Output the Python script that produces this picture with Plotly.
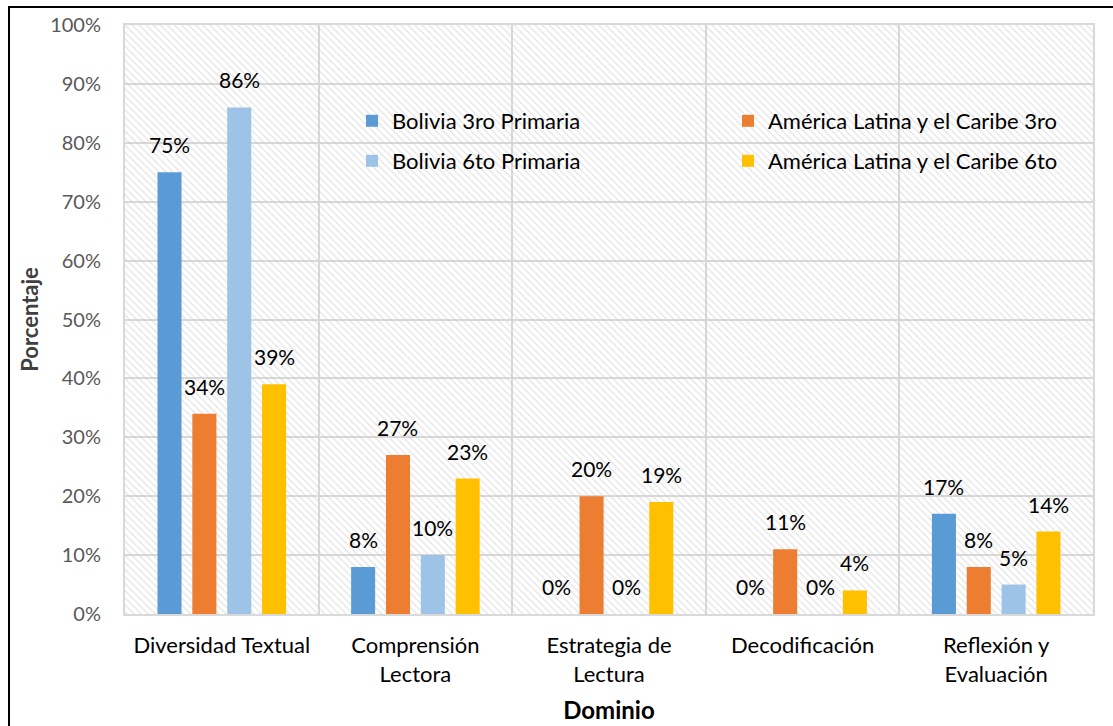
import plotly.graph_objects as go

categories = ["Diversidad Textual", "Comprensión<br>Lectora", "Estrategia de<br>Lectura",
              "Decodificación", "Reflexión y<br>Evaluación"]
series_names = ["Bolivia 3ro Primaria", "América Latina y el Caribe 3ro",
                "Bolivia 6to Primaria", "América Latina y el Caribe 6to"]
bolivia_3ro = [75, 8, 0, 0, 17]
alc_3ro = [34, 27, 20, 11, 8]
bolivia_6to = [86, 10, 0, 0, 5]
alc_6to = [39, 23, 19, 4, 14]
series_values = [bolivia_3ro, alc_3ro, bolivia_6to, alc_6to]
colors = ["#5B9BD5", "#ED7D31", "#9DC3E6", "#FFC000"]
y_ticks = list(range(0, 101, 10))
y_ticktext = [f"{v}%" for v in y_ticks]
title_text = "<b>(En Porcentaje)</b>"

FONT = "Lato"
W, H = 1113, 726
ML, MR, MT, MB = 125, 20, 25, 112
PW, PH = W - ML - MR, H - MT - MB

BARGAP, GROUPGAP = 0.28, 0.31
n = len(series_values)
slot = (1 - BARGAP) / n

# legend placement (pixel text-start / row centre), 2 columns x 2 rows
legend_cols = [392, 768]
legend_rows = [121, 161]
legend_ids = ["legend", "legend2", "legend3", "legend4"]

fig = go.Figure()

# hatched plot-area background on hidden base axes
fig.add_trace(go.Scatter(
    x=[0, 1, 1, 0, 0], y=[0, 0, 1, 1, 0], mode="lines", fill="toself",
    line=dict(width=0), fillcolor="rgba(0,0,0,0)",
    fillpattern=dict(shape="\\", fgcolor="#c8c8c8", size=5, solidity=0.25),
    hoverinfo="skip", showlegend=False, xaxis="x", yaxis="y"))

# chart title that is cut off by the top edge of the picture
fig.add_trace(go.Scatter(
    x=[(578 - ML) / PW], y=[(PH + MT - 3) / PH], mode="text", text=[title_text],
    textposition="middle center", cliponaxis=False,
    textfont=dict(family="Liberation Serif", size=26, color="#000000"),
    hoverinfo="skip", showlegend=False, xaxis="x", yaxis="y"))

for i, (name, vals, col) in enumerate(zip(series_names, series_values, colors)):
    fig.add_trace(go.Bar(
        x=categories, y=vals, name=name, marker=dict(color=col, line=dict(width=0)),
        xaxis="x2", yaxis="y2", legend=legend_ids[i]))
    off = (i - (n - 1) / 2) * slot
    for j, v in enumerate(vals):
        fig.add_annotation(x=j + off, y=v, xref="x2", yref="y2", text=f"{v}%",
                           showarrow=False, yanchor="bottom", yshift=13,
                           font=dict(family=FONT, size=21, color="#000000"))

legends = {}
for i, lid in enumerate(legend_ids):
    cx = legend_cols[i % 2]
    cy = legend_rows[i // 2]
    legends[lid] = dict(x=(cx - 40 - ML) / PW, y=(MT + PH - cy) / PH,
                        xanchor="left", yanchor="middle",
                        bgcolor="rgba(0,0,0,0)", borderwidth=0,
                        font=dict(family=FONT, size=22, color="#000000"),
                        itemclick=False, itemdoubleclick=False)

fig.update_layout(
    width=W, height=H, margin=dict(l=ML, r=MR, t=MT, b=MB, autoexpand=False),
    paper_bgcolor="white", plot_bgcolor="white",
    barmode="group", bargap=BARGAP, bargroupgap=GROUPGAP,
    font=dict(family=FONT, size=20, color="#000000"),
    xaxis=dict(range=[0, 1], visible=False, fixedrange=True),
    yaxis=dict(range=[0, 1], visible=False, fixedrange=True),
    xaxis2=dict(overlaying="x", anchor="y2", type="category", tickson="boundaries",
                automargin=False,
                showgrid=True, gridcolor="#d9d9d9", gridwidth=2,
                showline=True, linecolor="#d9d9d9", linewidth=2, mirror=True,
                ticks="", ticklabelstandoff=11,
                tickfont=dict(family=FONT, size=22, color="#000000"),
                title=dict(text="<b>Dominio</b>", standoff=16,
                           font=dict(family=FONT, size=24, color="#000000"))),
    yaxis2=dict(overlaying="y", anchor="x2", range=[0, 100], tickmode="array",
                tickvals=y_ticks, ticktext=y_ticktext, automargin=False,
                showgrid=True, gridcolor="#d9d9d9", gridwidth=2,
                showline=True, linecolor="#d9d9d9", linewidth=2, mirror=True,
                ticks="outside", ticklen=18, tickcolor="rgba(0,0,0,0)",
                zeroline=False,
                tickfont=dict(family=FONT, size=20, color="#595959"),
                title=dict(text="<b>Porcentaje</b>", standoff=5,
                           font=dict(family=FONT, size=22, color="#404040"))),
    **legends,
)

# outer frame
fig.add_shape(type="rect", xref="paper", yref="paper",
              x0=(9 - ML) / PW, x1=1.05, y0=-0.3, y1=(MT + PH - 7) / PH,
              line=dict(color="#000000", width=2), fillcolor="rgba(0,0,0,0)", layer="above")

fig.write_html("out.html", config={"displayModeBar": False},
               post_script="document.body.style.margin='0';")
